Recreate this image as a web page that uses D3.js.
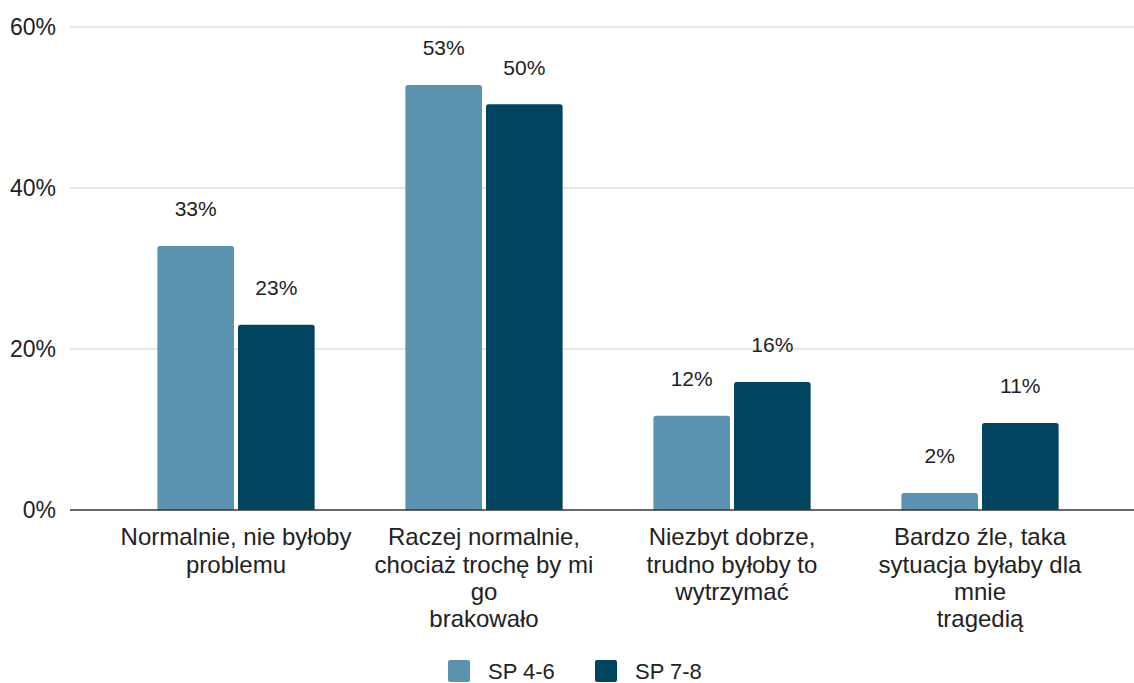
<!DOCTYPE html>
<html><head><meta charset="utf-8">
<script src="https://cdn.jsdelivr.net/npm/d3@7"></script>
<style>body{margin:0;background:#fff}svg{display:block;font-family:"Liberation Sans",Arial,sans-serif}</style>
</head><body><svg id="c" width="1134" height="683"></svg>
<script>
const categories = [
  ["Normalnie, nie byłoby", "problemu"],
  ["Raczej normalnie,", "chociaż trochę by mi", "go", "brakowało"],
  ["Niezbyt dobrze,", "trudno byłoby to", "wytrzymać"],
  ["Bardzo źle, taka", "sytuacja byłaby dla", "mnie", "tragedią"]
];
const seriesNames = ["SP 4-6", "SP 7-8"];
const sp46 = [32.8, 52.8, 11.7, 2.1];
const sp78 = [23.0, 50.4, 15.9, 10.8];
const labels46 = ["33%", "53%", "12%", "2%"];
const labels78 = ["23%", "50%", "16%", "11%"];
const yTicks = [0, 20, 40, 60];
const colors = ["#5a92b0", "#01445f"];

const svg = d3.select("#c");
const y = d3.scaleLinear().domain([0, 60]).range([510, 27]);
const x = d3.scaleBand().domain(d3.range(4)).range([112, 1104]).paddingInner(0.366).paddingOuter(0.183);
const xs = d3.scaleBand().domain([0, 1]).range([0, x.bandwidth()]).paddingInner(0.05);

// grid
svg.append("g").selectAll("line").data(yTicks.filter(d => d > 0)).join("line")
  .attr("x1", 70).attr("x2", 1134).attr("y1", d => y(d)).attr("y2", d => y(d))
  .attr("stroke", "#cccccc").attr("stroke-width", 1);
svg.append("g").selectAll("text").data(yTicks).join("text")
  .attr("x", 56).attr("y", d => y(d)).attr("dy", "0.35em").attr("text-anchor", "end")
  .attr("font-size", 23).attr("fill", "#222").text(d => d + "%");

const series = [sp46, sp78];
const labs = [labels46, labels78];
series.forEach((vals, si) => {
  const g = svg.append("g");
  g.selectAll("path").data(vals).join("path")
    .attr("fill", colors[si])
    .attr("d", (v, i) => {
      const x0 = x(i) + xs(si), w = xs.bandwidth(), y0 = y(v), y1 = y(0), r = 2.5;
      return `M${x0},${y1}V${y0 + r}Q${x0},${y0} ${x0 + r},${y0}H${x0 + w - r}Q${x0 + w},${y0} ${x0 + w},${y0 + r}V${y1}Z`;
    });
  g.selectAll("text").data(vals).join("text")
    .attr("x", (v, i) => x(i) + xs(si) + xs.bandwidth() / 2)
    .attr("y", v => y(v) - 37).attr("dy", "0.35em").attr("text-anchor", "middle")
    .attr("font-size", 21).attr("fill", "#222").text((v, i) => labs[si][i]);
});

// axis line
svg.append("line").attr("x1", 70).attr("x2", 1134).attr("y1", y(0)).attr("y2", y(0))
  .attr("stroke", "#333").attr("stroke-width", 1.5);

// category labels
const cg = svg.append("g");
categories.forEach((lines, i) => {
  const t = cg.append("text").attr("x", x(i) + x.bandwidth() / 2).attr("text-anchor", "middle")
    .attr("font-size", 24).attr("fill", "#222");
  lines.forEach((ln, j) => t.append("tspan").attr("x", x(i) + x.bandwidth() / 2).attr("y", 537 + j * 27.3).attr("dy", "0.35em").text(ln));
});

// legend
const lg = svg.append("g");
const legX = [448, 595];
seriesNames.forEach((n, i) => {
  lg.append("rect").attr("x", legX[i]).attr("y", 660).attr("width", 22).attr("height", 22).attr("rx", 2).attr("fill", colors[i]);
  lg.append("text").attr("x", legX[i] + 40).attr("y", 671).attr("dy", "0.35em").attr("font-size", 22).attr("fill", "#222").text(n);
});
</script></body></html>
